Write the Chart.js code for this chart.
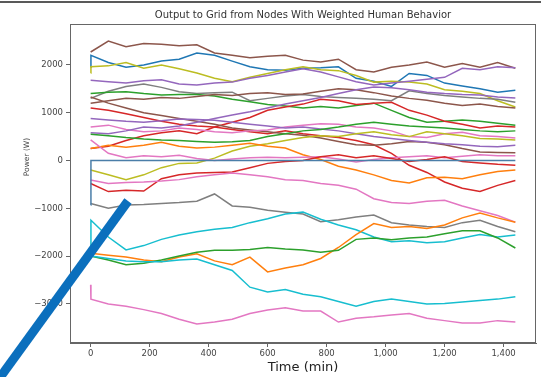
<!DOCTYPE html>
<html>
<head>
<meta charset="utf-8">
<script src="https://cdn.jsdelivr.net/npm/chart.js@4/dist/chart.umd.min.js"></script>
<style>
  html, body { margin:0; padding:0; background:#fff; }
  canvas { display:block; }
</style>
</head>
<body>
<canvas id="chart" width="541" height="377"></canvas>
<script>
// time axis (min); the 1-minute entry carries the start-up jump some nodes show
const times = [0, 1, 60, 120, 180, 240, 300, 360, 420, 480, 540, 600, 660, 720, 780, 840, 900, 960, 1020, 1080, 1140, 1200, 1260, 1320, 1380, 1440];
const xTicks = [0, 200, 400, 600, 800, 1000, 1200, 1400];
const yTicks = [-3000, -2000, -1000, 0, 1000, 2000];

// power per node (W)
const zeroLine     = [-930, 0, 0, 0, 0, 0, 0, 0, 0, 0, 0, 0, 0, 0, 0, 0, 0, 0, 0, 0, 0, 0, 0, 0, 0, 0];
const brownHigh    = [2270, 2270, 2500, 2380, 2450, 2430, 2400, 2420, 2250, 2200, 2150, 2180, 2200, 2100, 2060, 2120, 1900, 1850, 1950, 2000, 2060, 1950, 2030, 1950, 2050, 1930];
const blueHigh     = [1950, 2200, 2050, 1950, 2000, 2080, 2120, 2250, 2200, 2080, 1960, 1900, 1890, 1930, 1940, 1960, 1720, 1660, 1550, 1820, 1780, 1620, 1560, 1500, 1430, 1470];
const oliveHigh    = [1830, 1960, 1980, 2050, 1930, 2000, 1920, 1830, 1720, 1650, 1740, 1820, 1900, 1960, 1900, 1880, 1780, 1640, 1660, 1640, 1600, 1480, 1450, 1400, 1250, 1120];
const purpleHigh   = [1680, 1680, 1650, 1620, 1670, 1690, 1600, 1580, 1620, 1640, 1720, 1780, 1850, 1920, 1850, 1750, 1650, 1580, 1620, 1660, 1700, 1740, 1930, 1900, 1960, 1940];
const grayHigh     = [1300, 1300, 1450, 1550, 1600, 1530, 1440, 1400, 1420, 1430, 1250, 1300, 1350, 1380, 1340, 1320, 1300, 1280, 1250, 1460, 1400, 1360, 1330, 1300, 1280, 1220];
const greenHigh    = [1400, 1400, 1430, 1440, 1400, 1370, 1380, 1380, 1350, 1280, 1230, 1170, 1140, 1100, 1130, 1100, 1150, 1200, 1050, 900, 800, 820, 850, 820, 780, 740];
const redFalling   = [1100, 1100, 1050, 980, 900, 820, 760, 720, 700, 650, 600, 560, 620, 560, 520, 480, 420, 330, 150, -100, -250, -450, -580, -650, -520, -420];
const redRising    = [250, 250, 300, 420, 520, 580, 620, 560, 700, 800, 900, 1050, 1120, 1180, 1280, 1250, 1170, 1200, 1220, 1050, 950, 820, 760, 680, 720, 700];
const brownFalling = [1330, 1330, 1200, 1100, 1000, 940, 880, 820, 760, 680, 640, 600, 560, 530, 470, 400, 330, 320, 350, 400, 380, 330, 250, 180, 170, 160];
const brownMid     = [1200, 1200, 1250, 1300, 1280, 1320, 1300, 1340, 1380, 1360, 1400, 1420, 1380, 1390, 1450, 1500, 1480, 1420, 1350, 1300, 1260, 1200, 1150, 1180, 1130, 1100];
const pinkMid      = [700, 700, 740, 650, 600, 620, 680, 650, 600, 580, 620, 640, 700, 740, 770, 760, 700, 680, 620, 500, 480, 560, 590, 520, 500, 470];
const purpleMid    = [880, 880, 850, 820, 800, 830, 870, 860, 840, 800, 760, 720, 680, 700, 660, 620, 560, 500, 460, 420, 380, 350, 330, 300, 290, 320];
const purpleRising = [580, 580, 560, 620, 700, 680, 720, 800, 880, 950, 1020, 1100, 1180, 1250, 1320, 1400, 1480, 1540, 1520, 1480, 1430, 1400, 1380, 1370, 1330, 1310];
const greenMid     = [550, 550, 520, 480, 450, 430, 420, 400, 380, 390, 420, 500, 560, 620, 650, 700, 760, 800, 760, 720, 700, 680, 650, 620, 600, 620];
const oliveRising  = [-200, -200, -300, -400, -300, -150, -60, -50, 50, 200, 300, 350, 420, 480, 520, 500, 560, 600, 540, 500, 600, 560, 520, 460, 450, 430];
const orangeMid    = [250, 250, 320, 280, 320, 380, 300, 260, 280, 320, 360, 300, 260, 120, 20, -120, -200, -300, -420, -470, -360, -350, -380, -300, -230, -200];
const redNearZero  = [-480, -480, -650, -620, -640, -380, -300, -260, -250, -240, -150, -60, -20, 0, 80, 120, 60, 100, 40, -20, 20, 80, -20, -50, -80, -100];
const pinkNearZero = [430, 430, 150, 60, 100, 80, 110, 40, 0, 30, 60, 70, 60, 70, 80, 30, -30, 20, 60, 80, 100, 60, 90, 120, 100, 100];
const pinkFalling  = [-410, -410, -480, -460, -450, -430, -400, -340, -300, -260, -300, -340, -400, -420, -480, -520, -600, -800, -880, -900, -850, -830, -950, -1050, -1150, -1290];
const grayLow      = [-900, -900, -1000, -930, -920, -900, -880, -850, -700, -950, -980, -1040, -1080, -1120, -1280, -1240, -1180, -1140, -1300, -1350, -1380, -1400, -1300, -1250, -1380, -1490];
const cyanUpper    = [-1800, -1250, -1600, -1870, -1780, -1650, -1560, -1490, -1440, -1400, -1300, -1220, -1120, -1080, -1230, -1350, -1450, -1600, -1700, -1680, -1720, -1700, -1620, -1550, -1600, -1560];
const orangeLow    = [-1940, -1940, -1980, -2020, -2080, -2120, -2020, -1950, -2100, -2180, -2020, -2330, -2250, -2180, -2050, -1820, -1550, -1320, -1400, -1380, -1420, -1350, -1200, -1100, -1200, -1290];
const greenLow     = [-2000, -2000, -2080, -2180, -2150, -2080, -2000, -1920, -1880, -1880, -1860, -1820, -1850, -1870, -1920, -1880, -1650, -1620, -1660, -1620, -1600, -1530, -1470, -1470, -1620, -1830];
const cyanLow      = [-2000, -2000, -2050, -2100, -2120, -2120, -2080, -2060, -2180, -2300, -2650, -2750, -2700, -2800, -2850, -2950, -3050, -2950, -2900, -2950, -3000, -2990, -2960, -2930, -2900, -2850];
const pinkBottom   = [-2600, -2900, -3000, -3050, -3120, -3200, -3320, -3420, -3380, -3320, -3200, -3130, -3080, -3150, -3150, -3380, -3300, -3270, -3230, -3200, -3300, -3350, -3400, -3400, -3350, -3380];

// first entry is drawn on top
const series = [
  [zeroLine, '#4a7ea8'],
  [pinkBottom, '#e377c2'], [cyanLow, '#17becf'], [greenLow, '#2ca02c'], [orangeLow, '#ff7f0e'],
  [cyanUpper, '#17becf'], [grayLow, '#7f7f7f'], [pinkFalling, '#e377c2'], [redNearZero, '#d62728'],
  [pinkNearZero, '#e377c2'], [orangeMid, '#ff7f0e'], [oliveRising, '#bcbd22'], [greenMid, '#2ca02c'],
  [purpleRising, '#9467bd'], [purpleMid, '#9467bd'], [pinkMid, '#e377c2'], [brownMid, '#8c564b'],
  [brownFalling, '#8c564b'], [redRising, '#d62728'], [redFalling, '#d62728'], [greenHigh, '#2ca02c'],
  [grayHigh, '#7f7f7f'], [purpleHigh, '#9467bd'], [oliveHigh, '#bcbd22'], [blueHigh, '#1f77b4'],
  [brownHigh, '#8c564b']
];

const datasets = series.map(([vals, color]) => ({
  data: vals.map((v, i) => ({ x: times[i], y: v })),
  borderColor: color,
  borderWidth: 1.5,
  pointRadius: 0,
  tension: 0,
  fill: false
}));

const fmt = v => (v < 0 ? '\u2212' + Math.abs(v) : String(v));

// frame, labels and the blue stroke over the picture
const extras = {
  id: 'extras',
  afterDraw(chart){
    const { ctx, chartArea: a } = chart;
    ctx.save();
    ctx.strokeStyle = '#666';
    ctx.lineWidth = 1;
    ctx.strokeRect(a.left + 0.5, a.top + 0.5, a.right - a.left - 1, a.bottom - a.top - 1);

    ctx.fillStyle = '#333';
    ctx.textAlign = 'center';
    ctx.textBaseline = 'middle';
    ctx.font = '10px "DejaVu Sans"';
    ctx.fillText('Output to Grid from Nodes With Weighted Human Behavior', (a.left + a.right) / 2, 15.5);
    ctx.font = '13px "DejaVu Sans"';
    ctx.fillStyle = '#222';
    ctx.fillText('Time (min)', (a.left + a.right) / 2, 368);
    ctx.save();
    ctx.translate(27, 157);
    ctx.rotate(-Math.PI / 2);
    ctx.font = '7.5px "DejaVu Sans"';
    ctx.fillStyle = '#444';
    ctx.fillText('Power (W)', 0, 0);
    ctx.restore();

    ctx.strokeStyle = '#222';
    ctx.lineWidth = 1.5;
    ctx.beginPath(); ctx.moveTo(0, 2); ctx.lineTo(541, 2); ctx.stroke();

    ctx.strokeStyle = '#0b6fbd';
    ctx.lineWidth = 9;
    ctx.lineCap = 'butt';
    ctx.beginPath(); ctx.moveTo(128, 201); ctx.lineTo(-12, 394); ctx.stroke();
    ctx.restore();
  }
};

new Chart(document.getElementById('chart').getContext('2d'), {
  type: 'line',
  data: { datasets },
  plugins: [extras],
  options: {
    responsive: false,
    animation: false,
    devicePixelRatio: 1,
    layout: { padding: { top: 24, right: 5, left: 0, bottom: 0 } },
    plugins: { legend: { display: false }, tooltip: { enabled: false } },
    scales: {
      x: {
        type: 'linear', min: -70, max: 1510,
        afterBuildTicks: s => { s.ticks = xTicks.map(v => ({ value: v })); },
        afterFit: s => { s.height = 34; },
        ticks: { font: { family: 'DejaVu Sans', size: 8.5 }, color: '#444', padding: 2, maxRotation: 0, autoSkip: false },
        grid: { drawOnChartArea: false, tickLength: 4, color: '#666' },
        border: { color: '#666' }
      },
      y: {
        type: 'linear', min: -3818, max: 2856,
        afterBuildTicks: s => { s.ticks = yTicks.map(v => ({ value: v })); },
        afterFit: s => { s.width = 70; },
        ticks: { font: { family: 'DejaVu Sans', size: 8.5 }, color: '#444', padding: 3, autoSkip: false, callback: fmt },
        grid: { drawOnChartArea: false, tickLength: 4, color: '#666' },
        border: { color: '#666' }
      }
    }
  }
});
</script>
</body>
</html>
